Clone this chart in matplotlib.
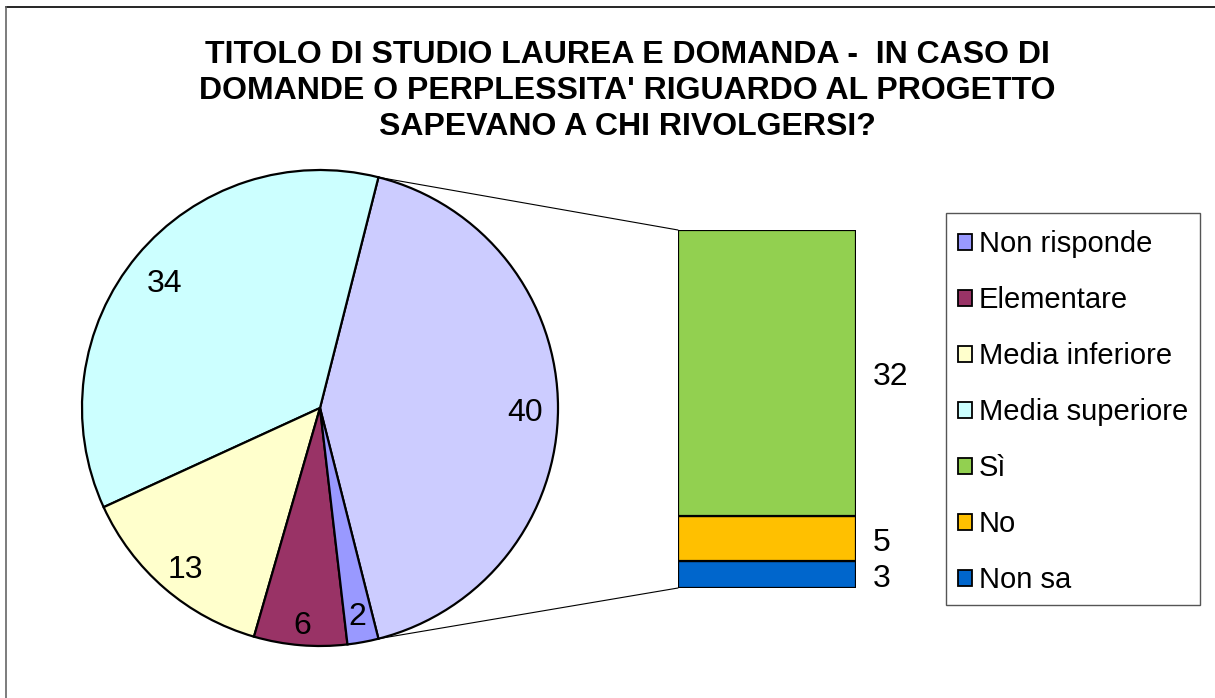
import matplotlib
matplotlib.use('Agg')
import matplotlib.pyplot as plt
from matplotlib.patches import Patch, ConnectionPatch, Rectangle
from matplotlib.lines import Line2D
from matplotlib.transforms import offset_copy
import numpy as np

plt.rcParams['font.family'] = ['Liberation Sans', 'DejaVu Sans']

title = ("TITOLO DI STUDIO LAUREA E DOMANDA -  IN CASO DI\n"
         "DOMANDE O PERPLESSITA' RIGUARDO AL PROGETTO\n"
         "SAPEVANO A CHI RIVOLGERSI?")

# Pie (first slice is the aggregated "other" slice exploded into the bar)
pie_labels = ['Altro', 'Media superiore', 'Media inferiore', 'Elementare', 'Non risponde']
pie_values = [40, 34, 13, 6, 2]
pie_colors = ['#CCCCFF', '#CCFFFF', '#FFFFCC', '#993366', '#9999FF']

# Stacked bar (bottom to top)
bar_labels = ['Non sa', 'No', 'Sì']
bar_values = [3, 5, 32]
bar_colors = ['#0066CC', '#FFC000', '#92D050']

legend_order = ['Non risponde', 'Elementare', 'Media inferiore', 'Media superiore', 'Sì', 'No', 'Non sa']

W, H = 1215, 698
fig = plt.figure(figsize=(W / 100, H / 100), dpi=100)

# ---- pie ----
total = sum(pie_values)
half = pie_values[0] / total * 360 / 2
ax1 = fig.add_axes([82 / W, (H - 408 - 238) / H, 476 / W, 476 / H])
wedges, texts, autotexts = ax1.pie(
    pie_values, colors=pie_colors, startangle=-half, counterclock=True,
    wedgeprops=dict(edgecolor='black', linewidth=1.6),
    autopct=lambda p: f'{round(p * total / 100):d}', pctdistance=0.86,
    textprops=dict(fontsize=23, color='black'))
label_dist = [0.86, 0.85, 0.87, 0.9, 0.87]
for w, t, d in zip(wedges, autotexts, label_dist):
    a = np.deg2rad((w.theta1 + w.theta2) / 2)
    t.set_position((d * np.cos(a), d * np.sin(a)))
    t.set_transform(offset_copy(ax1.transData, fig=fig, x=0, y=-5, units='dots'))
ax1.set_xlim(-1, 1)
ax1.set_ylim(-1, 1)
ax1.set_aspect('equal')
ax1.axis('off')

# ---- bar ----
ax2 = fig.add_axes([678 / W, (H - 588) / H, 178 / W, 358 / H])
bottom = 0
for lab, v, c in zip(bar_labels, bar_values, bar_colors):
    ax2.bar(0, v, width=1, bottom=bottom, color=c, edgecolor='black', linewidth=1.6)
    ax2.annotate(str(v), xy=(0.5, bottom + v / 2), xytext=(17, -4), textcoords='offset pixels',
                 ha='left', va='center', fontsize=23)
    bottom += v
ax2.set_xlim(-0.5, 0.5)
ax2.set_ylim(0, sum(bar_values))
ax2.axis('off')

# ---- connector lines ----
t = np.deg2rad(half)
for sgn, yb in [(1, sum(bar_values)), (-1, 0)]:
    con = ConnectionPatch(xyA=(np.cos(t), sgn * np.sin(t)), coordsA=ax1.transData,
                          xyB=(-0.5, yb), coordsB=ax2.transData, color='black', lw=0.8)
    fig.add_artist(con)

# ---- title ----
fig.text(627 / W, 1 - 40 / H, title, ha='center', va='top', fontsize=23,
         fontweight='bold', linespacing=1.27)

# ---- legend ----
color_map = dict(zip(pie_labels, pie_colors))
color_map.update(dict(zip(bar_labels, bar_colors)))
handles = [Patch(facecolor=color_map[l], edgecolor='black', linewidth=1.3) for l in legend_order]
leg = fig.legend(handles, legend_order, loc='upper left', bbox_to_anchor=(946 / W, 1 - 218 / H),
                 fontsize=21, frameon=False,
                 handlelength=0.48, handleheight=0.48, handletextpad=0.22,
                 labelspacing=0.96, borderpad=0.42, borderaxespad=0)
fig.add_artist(Rectangle((946 / W, 1 - 605 / H), 254 / W, 392 / H, transform=fig.transFigure,
                         facecolor='none', edgecolor='#555555', lw=1.0))

# ---- outer border (cut by image edges) ----
fig.add_artist(Line2D([6 / W, 1], [1 - 7 / H, 1 - 7 / H], transform=fig.transFigure, color='black', lw=1.2))
fig.add_artist(Line2D([6 / W, 6 / W], [0, 1 - 7 / H], transform=fig.transFigure, color='#666666', lw=1.2))

fig.savefig('out.png', dpi=100)
